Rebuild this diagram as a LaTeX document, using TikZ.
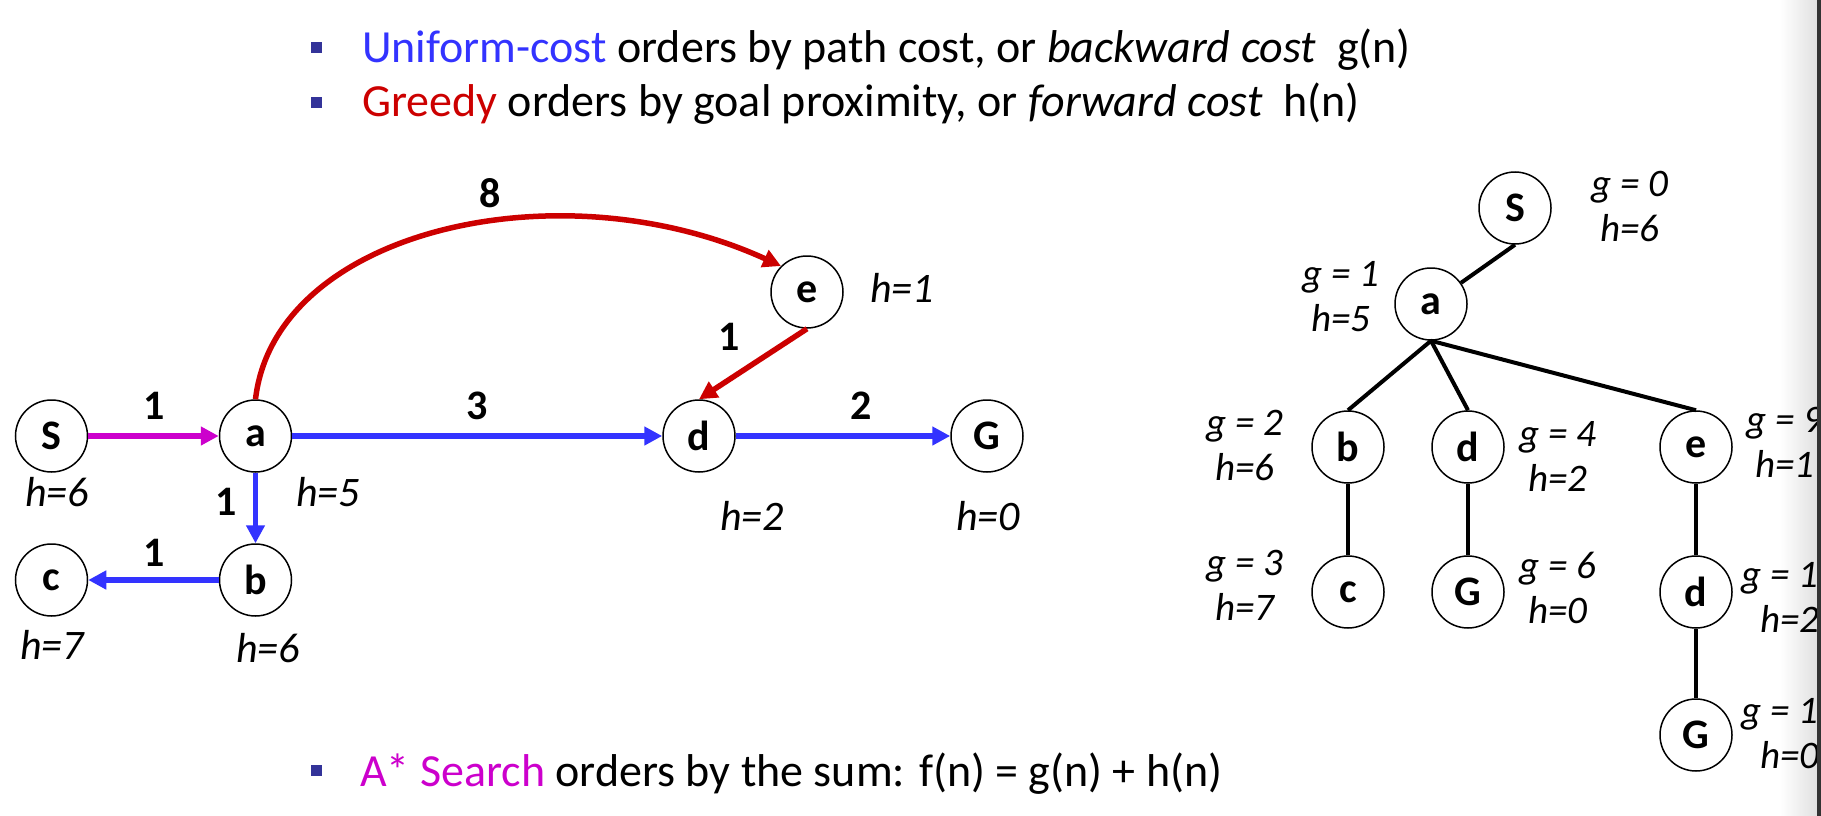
\documentclass[tikz,border=0pt]{standalone}
\usepackage{fontspec}
\setmainfont{Carlito}
\usetikzlibrary{arrows.meta}
\definecolor{UcsBlue}{RGB}{51,51,255}
\definecolor{GreedyRed}{RGB}{204,0,0}
\definecolor{AstarPink}{RGB}{204,0,204}
\definecolor{BulletBlue}{RGB}{51,51,153}

\begin{document}
\begin{tikzpicture}[x=1pt, y=-1pt,
  state/.style={draw, circle, line width=1.5pt, minimum size=72pt, inner sep=0pt,
                font=\fontsize{42}{42}\selectfont\bfseries},
  cost/.style={inner sep=0pt, font=\fontsize{42}{42}\selectfont\bfseries},
  heur/.style={inner sep=0pt, font=\fontsize{42}{42}\selectfont\itshape},
  gh/.style={inner sep=0pt, align=center, font=\fontsize{39}{45}\selectfont\itshape},
  edge/.style={line width=5.5pt, -{Triangle[length=18pt,width=18pt]}},
  treeedge/.style={line width=4pt},
  bullet/.style={fill=BulletBlue, minimum size=11pt, inner sep=0pt},
  line/.style={anchor=base west, inner sep=0pt, font=\fontsize{46}{46}\selectfont}]
  \useasboundingbox (0,0) rectangle (1821,816);
  \shade[left color=white, right color=black!12] (1780,0) rectangle (1817,816);

  % headings
  \node[bullet] (b1) at (316,47.5) {};
  \node[line] (l1) at (362,63) {\textcolor{UcsBlue}{Uniform-cost} orders by path cost, or \textit{backward cost}\ \ g(n)};
  \node[bullet] (b2) at (316,102) {};
  \node[line] (l2) at (362,117) {\textcolor{GreedyRed}{Greedy} orders by goal proximity, or \textit{forward cost}\ \ h(n)};
  \node[bullet] (b3) at (316,770) {};
  \node[line] (l3) at (360,786) {\textcolor{AstarPink}{A* Search} orders by the sum: f(n) = g(n) + h(n)};

  % state graph
  \node[state] (S) at (51.5,436) {S};
  \node[state] (a) at (255.5,436) {a};
  \node[state] (d) at (699,436) {d};
  \node[state] (G) at (987,436) {G};
  \node[state] (e) at (807,292) {e};
  \node[state] (b) at (255.5,580) {b};
  \node[state] (c) at (51.5,580) {c};

  \draw[edge, AstarPink] (S) -- (a);
  \draw[edge, UcsBlue] (a) -- (d);
  \draw[edge, UcsBlue] (d) -- (G);
  \draw[edge, UcsBlue] (a) -- (b);
  \draw[edge, UcsBlue] (b) -- (c);
  \draw[edge, GreedyRed] (e.south) -- (d.north);
  \draw[edge, GreedyRed] (a.north) .. controls (275,230) and (560,165) .. (e.north west);

  \node[cost] (wSa) at (154,406) {1};
  \node[cost] (wad) at (477,406) {3};
  \node[cost] (wdG) at (861,406) {2};
  \node[cost] (wab) at (226,502) {1};
  \node[cost] (wbc) at (154,553) {1};
  \node[cost] (wed) at (729,337) {1};
  \node[cost] (wae) at (490,193) {8};

  \node[heur] (hS) at (57,492) {h=6};
  \node[heur] (ha) at (328,492) {h=5};
  \node[heur] (hd) at (752,516) {h=2};
  \node[heur] (hG) at (988,516) {h=0};
  \node[heur] (he) at (902,288) {h=1};
  \node[heur] (hc) at (52,645) {h=7};
  \node[heur] (hb) at (268,648) {h=6};

  % search tree
  \node[state] (tS) at (1515,208) {S};
  \node[state] (ta) at (1431,304) {a};
  \node[state] (tb) at (1348,447) {b};
  \node[state] (td) at (1468,447) {d};
  \node[state] (te) at (1696,447) {e};
  \node[state] (tc) at (1348,592) {c};
  \node[state] (tG) at (1468,592) {G};
  \node[state] (ted) at (1696,592) {d};
  \node[state] (teG) at (1696,735) {G};

  \draw[treeedge] (tS.south) -- (ta);
  \draw[treeedge] (ta.south) -- (tb.north);
  \draw[treeedge] (ta.south) -- (td.north);
  \draw[treeedge] (ta.south) -- (te.north);
  \draw[treeedge] (tb) -- (tc);
  \draw[treeedge] (td) -- (tG);
  \draw[treeedge] (te) -- (ted);
  \draw[treeedge] (ted) -- (teG);

  \node[gh] (gS) at (1630,206) {g = 0\\h=6};
  \node[gh] (ga) at (1341,297) {g = 1\\h=5};
  \node[gh] (gb) at (1245,445) {g = 2\\h=6};
  \node[gh] (gd) at (1558,456) {g = 4\\h=2};
  \node[gh] (ge) at (1785,442) {g = 9\\h=1};
  \node[gh] (gc) at (1245,585) {g = 3\\h=7};
  \node[gh] (gG) at (1558,588) {g = 6\\h=0};
  \node[gh] (ged) at (1790,597) {g = 10\\h=2};
  \node[gh] (geG) at (1790,733) {g = 12\\h=0};

  \fill[black!80] (1817,0) rectangle (1821,816);
\end{tikzpicture}
\end{document}
